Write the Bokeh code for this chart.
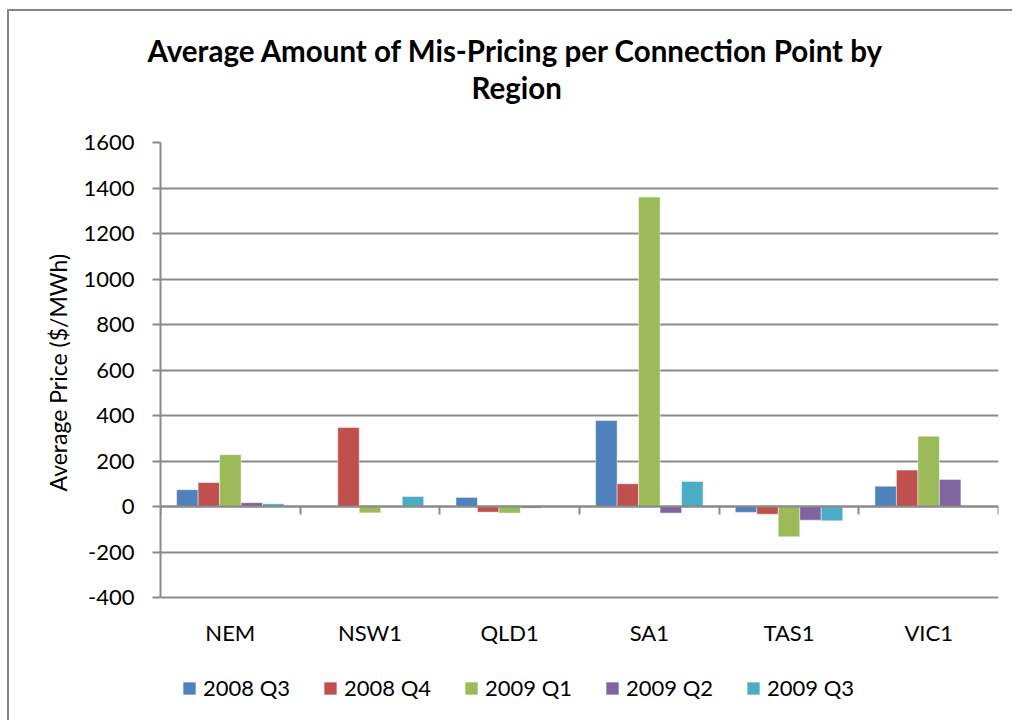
from bokeh.plotting import figure
from bokeh.models import (ColumnDataSource, Range1d, LinearAxis, FixedTicker,
                          Legend, LegendItem, Title)
from bokeh.transform import dodge
from bokeh.embed import file_html
from bokeh.resources import INLINE

# ---- data ----
regions = ["NEM", "NSW1", "QLD1", "SA1", "TAS1", "VIC1"]
series_names = ["2008 Q3", "2008 Q4", "2009 Q1", "2009 Q2", "2009 Q3"]
q3_2008 = [74, 0, 40, 378, -26, 89]
q4_2008 = [105, 347, -25, 100, -34, 160]
q1_2009 = [228, -28, -29, 1360, -133, 309]
q2_2009 = [17, 0, -7, -29, -60, 119]
q3_2009 = [12, 44, 0, 110, -63, 0]
colors = ["#4F81BD", "#C0504D", "#9BBB59", "#8064A2", "#4BACC6"]
y_ticks = [-400, -200, 0, 200, 400, 600, 800, 1000, 1200, 1400, 1600]
title_lines = ["Average Amount of Mis-Pricing per Connection Point by", "Region"]
y_label = "Average Price ($/MWh)"

series_vals = [q3_2008, q4_2008, q1_2009, q2_2009, q3_2009]
keys = ["s0", "s1", "s2", "s3", "s4"]
data = {"xc": [i + 0.5 for i in range(len(regions))]}
for k, v in zip(keys, series_vals):
    data[k] = v
source = ColumnDataSource(data)

FONT = "Lato"
GRAY = "#8a8a8a"

# layout (pixels inside the canvas)
W, H = 1005, 711
TOP, LEFT, RIGHT_PAD = 131, 151, 16
y_lo, y_hi = y_ticks[0], y_ticks[-1]
px_per_unit = 455.0 / (y_hi - y_lo)          # value axis spans 455 px
frame_h = H - TOP
y_start = y_hi - frame_h / px_per_unit       # extra room below for labels/legend

p = figure(width=W, height=H, output_backend="svg", toolbar_location=None,
           x_range=Range1d(0, len(regions)), y_range=Range1d(y_start, y_hi),
           x_axis_type=None, min_border_left=LEFT, min_border_right=RIGHT_PAD,
           min_border_top=TOP, min_border_bottom=0)
p.title = None
p.outline_line_color = None
p.background_fill_color = "white"
p.border_fill_color = "white"
p.styles = {"border-left": "2px solid #868686", "border-top": "2px solid #868686",
            "margin-left": "7px", "margin-top": "9px"}

# y axis
yax = p.yaxis[0]
yax.ticker = FixedTicker(ticks=y_ticks)
yax.bounds = (y_lo, y_hi)
yax.major_label_overrides = {t: str(t) for t in y_ticks}
yax.axis_line_color = GRAY
yax.axis_line_width = 2
yax.major_tick_line_color = GRAY
yax.major_tick_line_width = 2
yax.major_tick_in = 0
yax.major_tick_out = 8
yax.minor_tick_line_color = None
yax.major_label_text_font = FONT
yax.major_label_text_font_size = "22px"
yax.major_label_text_color = "black"
yax.major_label_standoff = 18

# y axis title, centred on the value span (-400..1600)
ytitle = Title(text=y_label, align="left", offset=231, standoff=18,
               text_font=FONT, text_font_size="23px", text_font_style="normal",
               text_color="black")
p.add_layout(ytitle, "left")

p.ygrid.ticker = FixedTicker(ticks=y_ticks)
p.ygrid.grid_line_color = GRAY
p.ygrid.grid_line_width = 2
p.xgrid.grid_line_color = None

# category labels, hung below the lowest gridline
lab_ax = LinearAxis(fixed_location=y_lo, ticker=FixedTicker(ticks=data["xc"]),
                    major_label_overrides={x: r for x, r in zip(data["xc"], regions)})
lab_ax.axis_line_color = None
lab_ax.major_tick_line_color = None
lab_ax.minor_tick_line_color = None
lab_ax.major_tick_out = 0
lab_ax.major_tick_in = 0
lab_ax.major_label_standoff = 21
lab_ax.major_label_text_font = FONT
lab_ax.major_label_text_font_size = "22px"
lab_ax.major_label_text_color = "black"
p.add_layout(lab_ax, "below")

# zero-line axis with category separators
zero_ax = LinearAxis(fixed_location=0,
                     ticker=FixedTicker(ticks=list(range(len(regions) + 1))))
zero_ax.axis_line_color = GRAY
zero_ax.axis_line_width = 2
zero_ax.major_tick_line_color = GRAY
zero_ax.major_tick_line_width = 2
zero_ax.major_tick_in = 0
zero_ax.major_tick_out = 8
zero_ax.minor_tick_line_color = None
zero_ax.major_label_text_font_size = "0px"
zero_ax.major_label_text_color = None
zero_ax.major_label_standoff = 0
p.add_layout(zero_ax, "below")

# bars
w = 1 / 6.5
items = []
for j, (k, name, c) in enumerate(zip(keys, series_names, colors)):
    r = p.vbar(x=dodge("xc", (j - 2) * w, range=p.x_range), top=k, bottom=0,
               width=w, source=source, fill_color=c, line_color="white",
               line_alpha=0.45, line_width=1)
    items.append(LegendItem(label=name, renderers=[r]))

legend = Legend(items=items, orientation="horizontal", location=(21, 21))
legend.border_line_color = None
legend.background_fill_alpha = 0
legend.padding = 0
legend.margin = 0
legend.glyph_width = 16
legend.glyph_height = 16
legend.label_standoff = 6
legend.label_width = 99
legend.spacing = 20
legend.label_text_font = FONT
legend.label_text_font_size = "22px"
legend.label_text_color = "black"
p.add_layout(legend, "center")

# title: spacer nearest the frame, then the two lines
tfont = dict(text_font=FONT, text_font_style="bold", text_color="black")
spacer = Title(text=" ", align="left", standoff=0, text_font_size="30px", **tfont)
t2 = Title(text=title_lines[1], align="left", offset=311, standoff=0,
           text_font_size="29.5px", **tfont)
t1 = Title(text=title_lines[0], align="left", offset=-13, standoff=0,
           text_font_size="29.5px", **tfont)
p.add_layout(spacer, "above")
p.add_layout(t2, "above")
p.add_layout(t1, "above")

open("out.html", "w").write(file_html(p, INLINE))
